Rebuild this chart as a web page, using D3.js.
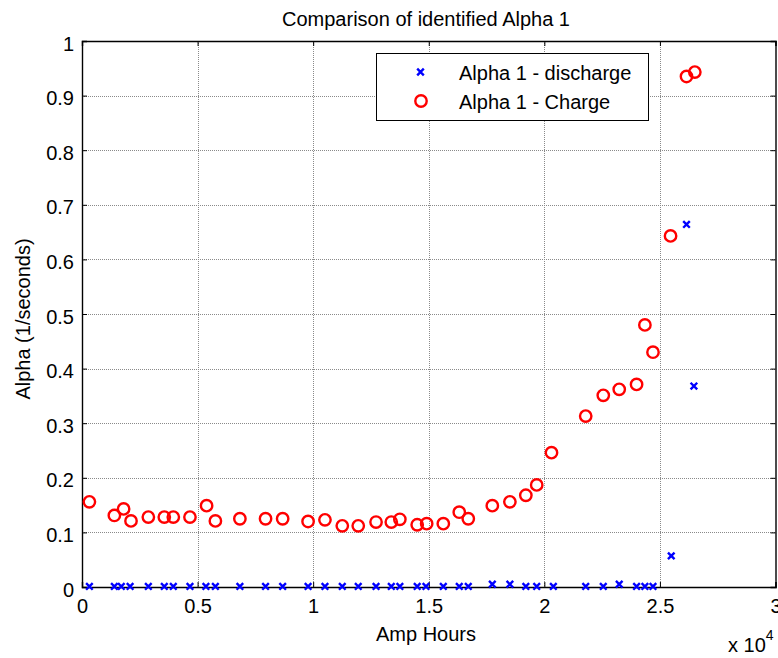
<!DOCTYPE html>
<html>
<head>
<meta charset="utf-8">
<script src="https://cdn.jsdelivr.net/npm/d3@7"></script>
<style>
  html, body { margin: 0; padding: 0; background: #fff; }
  svg { display: block; font-family: "Liberation Sans", Arial, sans-serif; }
</style>
</head>
<body>
<svg id="chart" width="778" height="658"></svg>
<script>
// Amp hours (x 10^4) at which each identification was made
const chargeAh = [0.032, 0.140, 0.180, 0.212, 0.287, 0.356, 0.395, 0.467, 0.539, 0.577,
  0.683, 0.794, 0.868, 0.978, 1.051, 1.126, 1.195, 1.272, 1.338, 1.375,
  1.450, 1.491, 1.563, 1.632, 1.671, 1.775, 1.851, 1.920, 1.967, 2.031,
  2.179, 2.255, 2.324, 2.399, 2.435, 2.470, 2.546, 2.615, 2.651];
const chargeAlpha = [0.156, 0.131, 0.143, 0.121, 0.128, 0.128, 0.128, 0.128, 0.149, 0.121,
  0.125, 0.125, 0.125, 0.120, 0.123, 0.112, 0.112, 0.119, 0.119, 0.124,
  0.114, 0.116, 0.116, 0.137, 0.125, 0.149, 0.156, 0.168, 0.187, 0.246,
  0.313, 0.351, 0.362, 0.371, 0.480, 0.430, 0.643, 0.935, 0.943];

const dischargeAh = [0.032, 0.140, 0.170, 0.208, 0.287, 0.356, 0.395, 0.467, 0.536, 0.577,
  0.683, 0.794, 0.868, 0.978, 1.051, 1.126, 1.195, 1.272, 1.338, 1.375,
  1.450, 1.488, 1.563, 1.632, 1.671, 1.775, 1.851, 1.920, 1.967, 2.039,
  2.179, 2.255, 2.324, 2.399, 2.435, 2.470, 2.549, 2.615, 2.647];
const dischargeAlpha = [0.001, 0.001, 0.001, 0.001, 0.001, 0.001, 0.001, 0.001, 0.001, 0.001,
  0.001, 0.001, 0.001, 0.001, 0.001, 0.001, 0.001, 0.001, 0.001, 0.001,
  0.001, 0.001, 0.001, 0.001, 0.001, 0.005, 0.005, 0.001, 0.001, 0.001,
  0.001, 0.001, 0.005, 0.001, 0.001, 0.001, 0.057, 0.664, 0.368];

const xTicks = [0, 0.5, 1, 1.5, 2, 2.5, 3];
const yTicks = [0, 0.1, 0.2, 0.3, 0.4, 0.5, 0.6, 0.7, 0.8, 0.9, 1];
const seriesNames = ["Alpha 1 - discharge", "Alpha 1 - Charge"];

const svg = d3.select("#chart");
const plotL = 82, plotR = 775.5, plotT = 41, plotB = 587;
const x = d3.scaleLinear().domain([0, 3]).range([plotL, plotR]);
const y = d3.scaleLinear().domain([0, 1]).range([plotB, plotT]);
const fs = 20;

// grid
const grid = svg.append("g").attr("stroke", "#8a8a8a").attr("stroke-width", 1)
  .attr("stroke-dasharray", "1,1").attr("shape-rendering", "crispEdges");
xTicks.slice(1, -1).forEach(t => grid.append("line")
  .attr("x1", Math.round(x(t)) + 0.5).attr("x2", Math.round(x(t)) + 0.5)
  .attr("y1", plotT).attr("y2", plotB));
yTicks.slice(1, -1).forEach(t => grid.append("line")
  .attr("x1", plotL).attr("x2", plotR)
  .attr("y1", Math.round(y(t)) + 0.5).attr("y2", Math.round(y(t)) + 0.5));

// axes (inward ticks on all four sides)
const tickLen = 5;
const axB = svg.append("g").attr("transform", `translate(0,${plotB})`)
  .call(d3.axisBottom(x).tickValues(xTicks).tickSize(-tickLen).tickPadding(12)
    .tickFormat(d => d3.format("~g")(d)));
const axT = svg.append("g").attr("transform", `translate(0,${plotT})`)
  .call(d3.axisTop(x).tickValues(xTicks).tickSize(-tickLen).tickFormat(""));
const axL = svg.append("g").attr("transform", `translate(${plotL},0)`)
  .call(d3.axisLeft(y).tickValues(yTicks).tickSize(-tickLen).tickPadding(8)
    .tickFormat(d => d3.format("~g")(d)));
const axR = svg.append("g").attr("transform", `translate(${plotR},0)`)
  .call(d3.axisRight(y).tickValues(yTicks).tickSize(-tickLen).tickFormat(""));
[axB, axT, axL, axR].forEach(a => {
  a.select(".domain").attr("stroke", "#000").attr("stroke-width", 1.4);
  a.selectAll(".tick line").attr("stroke", "#000");
  a.selectAll("text").attr("font-size", fs).attr("fill", "#000")
    .attr("font-family", "Liberation Sans, Arial, sans-serif");
});
axL.selectAll("text").attr("dy", "0.45em");

// charge series: red open circles
svg.append("g").selectAll("circle").data(chargeAh.map((d, i) => [d, chargeAlpha[i]]))
  .join("circle")
  .attr("cx", d => x(d[0])).attr("cy", d => y(d[1])).attr("r", 5.7)
  .attr("fill", "none").attr("stroke", "#ff0000").attr("stroke-width", 2.4);

// discharge series: blue x markers
const xMark = (g, cx, cy) => {
  const s = 3.3;
  g.append("path")
    .attr("d", `M${cx - s},${cy - s}L${cx + s},${cy + s}M${cx - s},${cy + s}L${cx + s},${cy - s}`)
    .attr("stroke", "#0000ff").attr("stroke-width", 2.4).attr("fill", "none");
};
const dg = svg.append("g");
dischargeAh.forEach((d, i) => xMark(dg, x(d), y(dischargeAlpha[i])));

// legend
const lg = svg.append("g");
lg.append("rect").attr("x", 376.5).attr("y", 53.5).attr("width", 272).attr("height", 67)
  .attr("fill", "#fff").attr("stroke", "#000").attr("stroke-width", 1);
xMark(lg, 420.5, 72);
lg.append("circle").attr("cx", 421).attr("cy", 101).attr("r", 5.7)
  .attr("fill", "none").attr("stroke", "#ff0000").attr("stroke-width", 2.4);
seriesNames.forEach((n, i) => lg.append("text")
  .attr("x", 459).attr("y", 80 + i * 29).attr("font-size", fs).attr("fill", "#000").text(n));

// titles
svg.append("text").attr("x", 426).attr("y", 26).attr("text-anchor", "middle")
  .attr("font-size", 20).text("Comparison of identified Alpha 1");
svg.append("text").attr("x", 426).attr("y", 641).attr("text-anchor", "middle")
  .attr("font-size", fs).text("Amp Hours");
svg.append("text").attr("transform", "translate(30,319) rotate(-90)")
  .attr("text-anchor", "middle").attr("font-size", fs).text("Alpha (1/seconds)");
const ex = svg.append("text").attr("x", 728).attr("y", 652).attr("font-size", fs);
ex.append("tspan").text("x 10");
ex.append("tspan").attr("dy", -12).attr("font-size", 14).text("4");
</script>
</body>
</html>
